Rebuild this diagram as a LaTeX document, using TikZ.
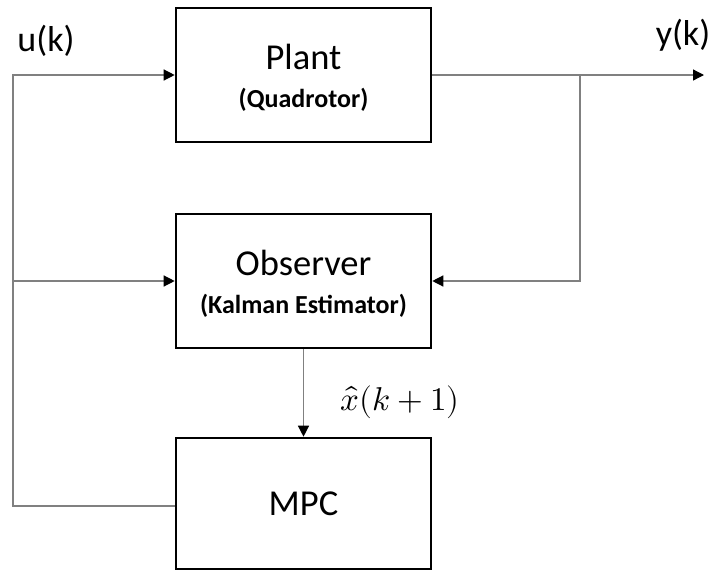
\documentclass[tikz,border=0pt]{standalone}
\usepackage{unicode-math}
\setmainfont{Carlito}
\usetikzlibrary{arrows.meta}
\begin{document}
\begin{tikzpicture}[x=1pt,y=-1pt,
  blockbox/.style={draw=black,line width=2.6pt,minimum width=255pt,inner sep=0pt,align=center,font=\fontsize{36.5}{39}\selectfont},
  conn/.style={draw=black!50,line width=1.3pt},
  arr/.style={conn,-{Triangle[length=11pt,width=11pt,color=black,fill=black]}},
  siglab/.style={font=\fontsize{36}{38}\selectfont,inner sep=0pt}]
\useasboundingbox (0,0) rectangle (716,571);
\node[blockbox,minimum height=134pt] (plant) at (303.5,75) {\raisebox{0pt}[30pt][0pt]{Plant}\\[-1pt]{\bfseries\fontsize{26}{28}\selectfont (Quadrotor)}};
\node[blockbox,minimum height=134pt] (obs) at (303.5,281) {\raisebox{0pt}[30pt][0pt]{Observer}\\[-1pt]{\bfseries\fontsize{26}{28}\selectfont (Kalman Estimator)}};
\node[blockbox,minimum height=131pt] (mpc) at (303.5,503.5) {MPC};
\coordinate (lb) at (13,506);
\coordinate (lt) at (13,75);
\coordinate (lm) at (13,281);
\coordinate (rj) at (580,75);
\coordinate (yout) at (704,75);
\node[siglab] (u) at (46,41) {u(k)};
\node[siglab] (y) at (683,35) {y(k)};
\node[inner sep=0pt,font=\fontsize{33}{36}\selectfont] (xh) at (400,402) {$\hat{x}(k+1)$};
\draw[arr] (mpc.west |- lb) -- (lb) -- (lt) -- (plant.west);
\draw[arr] (lm) -- (obs.west);
\draw[arr] (plant.east) -- (yout);
\draw[arr] (rj) |- (obs.east);
\draw[arr] (obs.south) -- (mpc.north);
\end{tikzpicture}
\end{document}
